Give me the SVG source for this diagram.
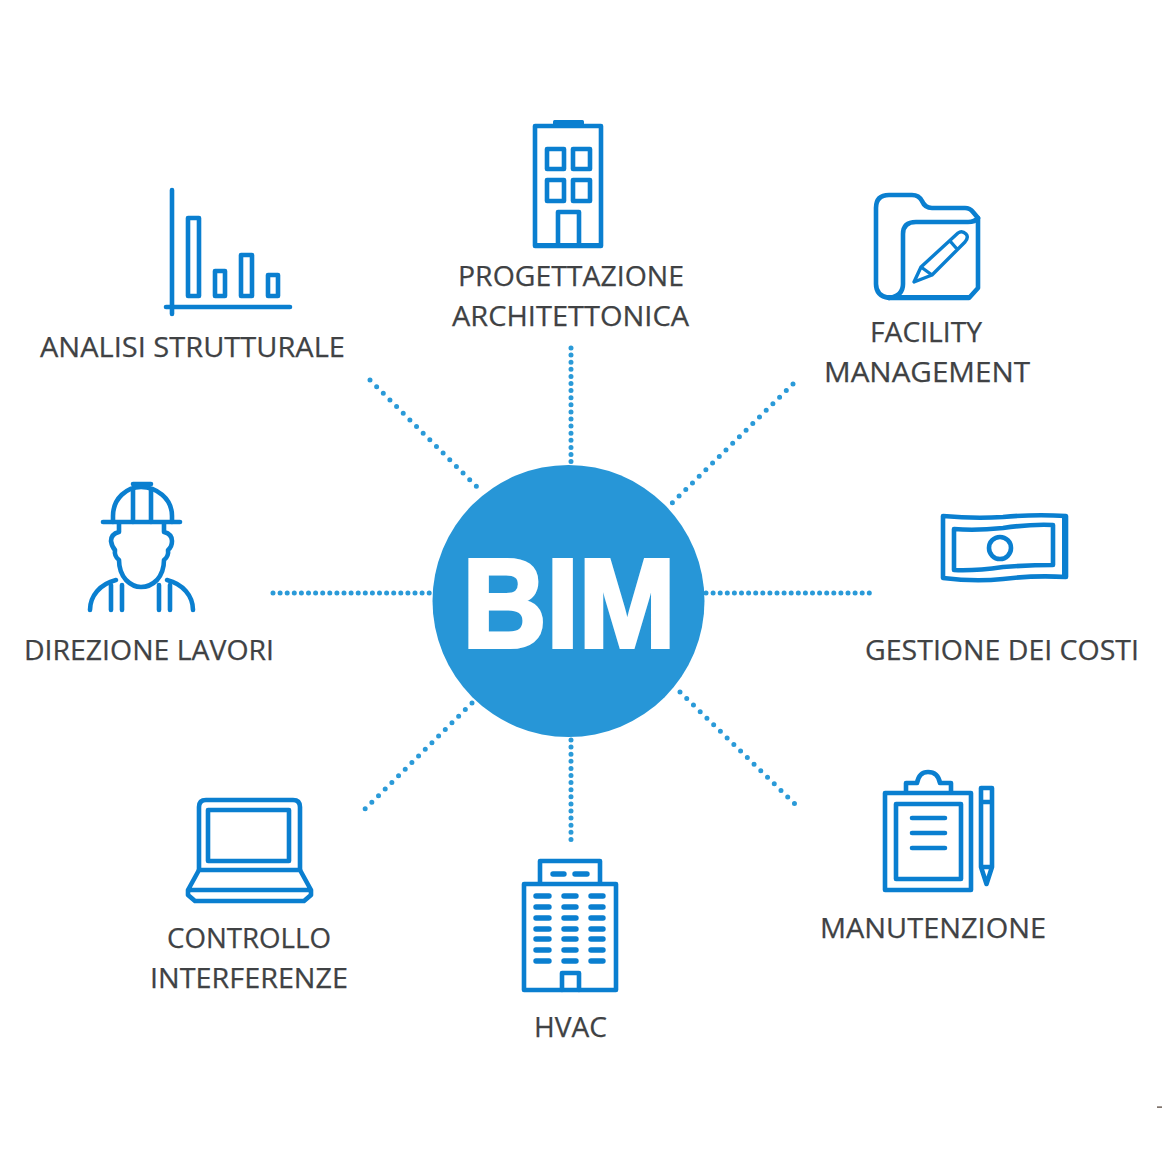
<svg xmlns="http://www.w3.org/2000/svg" width="1162" height="1162" viewBox="0 0 1162 1162">
<style>
.i{fill:none;stroke:#0a7fd0;stroke-width:4.600;stroke-linejoin:round;stroke-linecap:round}
.f{fill:#0a7fd0}
.t{font-family:"Open Sans","Liberation Sans",sans-serif;font-size:28px;fill:#404244;stroke:#404244;stroke-width:.25}
.d{fill:none;stroke:#2a9ad8;stroke-width:5;stroke-linecap:round}
.h{stroke-dasharray:0 7.1}
.g{stroke-dasharray:0 9.4}
.w{stroke-width:5.400}
</style>
<rect width="1162" height="1162" fill="#fff"/>
<g id="connectors">
<path class="d h" d="M571 348V462"/>
<path class="d h" d="M571 740V840"/>
<path class="d h" d="M273 593H432"/>
<path class="d h" d="M706 593H871"/>
<path class="d g" d="M370 380L480 490"/>
<path class="d g" d="M793 384L670 505"/>
<path class="d g" d="M680 692L797 806"/>
<path class="d g" d="M472 703L363 811"/>
</g>
<g id="bim">
<circle cx="568.500" cy="601" r="136" fill="#2796d7"/>
<text x="462.500" y="646.500" textLength="213" lengthAdjust="spacingAndGlyphs" style="font-family:'Liberation Sans',Arial,sans-serif;font-weight:700;font-size:126px;fill:#fff;stroke:#fff;stroke-width:4">BIM</text>
</g>
<g id="analisi">
<path class="i" d="M172 190V314M166 307H290"/>
<rect class="i" x="188" y="218" width="11" height="78"/>
<rect class="i" x="215" y="271" width="10" height="25"/>
<rect class="i" x="241" y="255" width="11" height="41"/>
<rect class="i" x="268" y="275" width="10" height="21"/>
<text class="t" x="40" y="357" textLength="305" lengthAdjust="spacingAndGlyphs">ANALISI STRUTTURALE</text>
</g>
<g id="progettazione">
<path class="i" d="M535 126H601V246H535Z"/>
<rect class="f" x="553" y="120" width="31" height="6" rx="1.500"/>
<rect class="f" x="534" y="243" width="68" height="5"/>
<rect class="i" x="547" y="149" width="17" height="20"/>
<rect class="i" x="573" y="149" width="17" height="20"/>
<rect class="i" x="547" y="180" width="17" height="21"/>
<rect class="i" x="573" y="180" width="17" height="21"/>
<path class="i" d="M558 245V212H579V245"/>
<text class="t" x="458" y="286" textLength="226" lengthAdjust="spacingAndGlyphs">PROGETTAZIONE</text>
<text class="t" x="452" y="326" textLength="237" lengthAdjust="spacingAndGlyphs">ARCHITETTONICA</text>
</g>
<g id="facility">
<path class="i" d="M889 298Q876 296 876 284V208Q876 195 889 195H912Q919 195 922 201Q925 208 932 208H965Q970 208 973 212L978 218V288L969 298Z"/>
<path class="i" d="M889 298Q903 296 903 284V234Q903 222 916 222H968Q975 222 978 218"/>
<rect class="f" x="885" y="295" width="84" height="4"/>
<path class="i" style="stroke-width:3.400" d="M914 282L921 267L958 233Q962 230 966 234Q969 237 965 242L932 275ZM921 267L932 275M950 241L957 249"/>
<text class="t" x="870" y="342" textLength="112" lengthAdjust="spacingAndGlyphs">FACILITY</text>
<text class="t" x="824" y="382" textLength="206" lengthAdjust="spacingAndGlyphs">MANAGEMENT</text>
</g>
<g id="direzione">
<path class="i" d="M103 522H180"/>
<path class="i" d="M113 522V516C113 498 127 487 141 487C156 487 172 498 172 516V522"/>
<path class="i" d="M133 484H151M133 490V522M151 490V522"/>
<path class="i" d="M119 524V532Q111 534 111 541Q112 547 115 550Q114 556 119 560Q119 572 126 580Q133 587 141 587Q150 587 157 580Q164 572 164 560Q169 556 168 550Q172 547 172 541Q172 534 164 532V524"/>
<path class="i" d="M90 610C90 596 100 584 116 580M193 610C193 596 183 584 167 580"/>
<path class="i" d="M111 585V610M122 585V610M159 585V610M170 585V610"/>
<text class="t" x="24" y="660" textLength="250" lengthAdjust="spacingAndGlyphs">DIREZIONE LAVORI</text>
</g>
<g id="gestione">
<path class="i" d="M943 516Q975 519 1003 517Q1035 514 1066 516V577Q1035 575 1003 579Q975 582 943 578Z"/>
<path class="f" d="M1062 516H1068V578H1062Z"/>
<path class="i" d="M954 529Q975 531 1003 528Q1030 524 1053 525V565Q1030 565 1003 567Q975 571 954 570Z"/>
<circle class="i" cx="1000" cy="548" r="11"/>
<text class="t" x="865" y="660" textLength="274" lengthAdjust="spacingAndGlyphs">GESTIONE DEI COSTI</text>
</g>
<g id="manutenzione">
<rect class="i" x="885" y="793" width="86" height="97"/>
<rect class="i" x="896" y="804" width="65" height="75"/>
<path class="i" d="M906 792V783H917Q919 772 928 772Q938 772 940 783H951V792"/>
<path class="i" d="M912 818H945M912 833H945M912 848H945"/>
<path class="i" d="M981 788H992V867L986.500 884L981 867ZM981 802H992M981 867H992"/>
<text class="t" x="820" y="938" textLength="226" lengthAdjust="spacingAndGlyphs">MANUTENZIONE</text>
</g>
<g id="hvac">
<rect class="i" x="524" y="884" width="92" height="106"/>
<path class="i" d="M540 883V861H600V883"/>
<path class="i w" d="M553 874H564M575 874H587"/>
<path class="i w" d="M536 896H549M564 896H576M591 896H603M536 907H549M564 907H576M591 907H603M536 918H549M564 918H576M591 918H603M536 929H549M564 929H576M591 929H603M536 939H549M564 939H576M591 939H603M536 950H549M564 950H576M591 950H603M536 961H549M564 961H576M591 961H603"/>
<path class="i" d="M562 990V973H579V990"/>
<text class="t" x="534" y="1037" textLength="73" lengthAdjust="spacingAndGlyphs">HVAC</text>
</g>
<g id="controllo">
<path class="i" d="M199 870V807Q199 800 206 800H293Q300 800 300 807V870"/>
<rect class="i" x="208" y="810" width="81" height="51"/>
<path class="i" d="M199 870H300L311 890V895L304 901H195L188 895V890ZM188 890H311"/>
<text class="t" x="167" y="948" textLength="164" lengthAdjust="spacingAndGlyphs">CONTROLLO</text>
<text class="t" x="150" y="988" textLength="198" lengthAdjust="spacingAndGlyphs">INTERFERENZE</text>
</g>
<rect x="1157" y="1106.500" width="5" height="1.200" fill="#4a3a30"/>
</svg>
